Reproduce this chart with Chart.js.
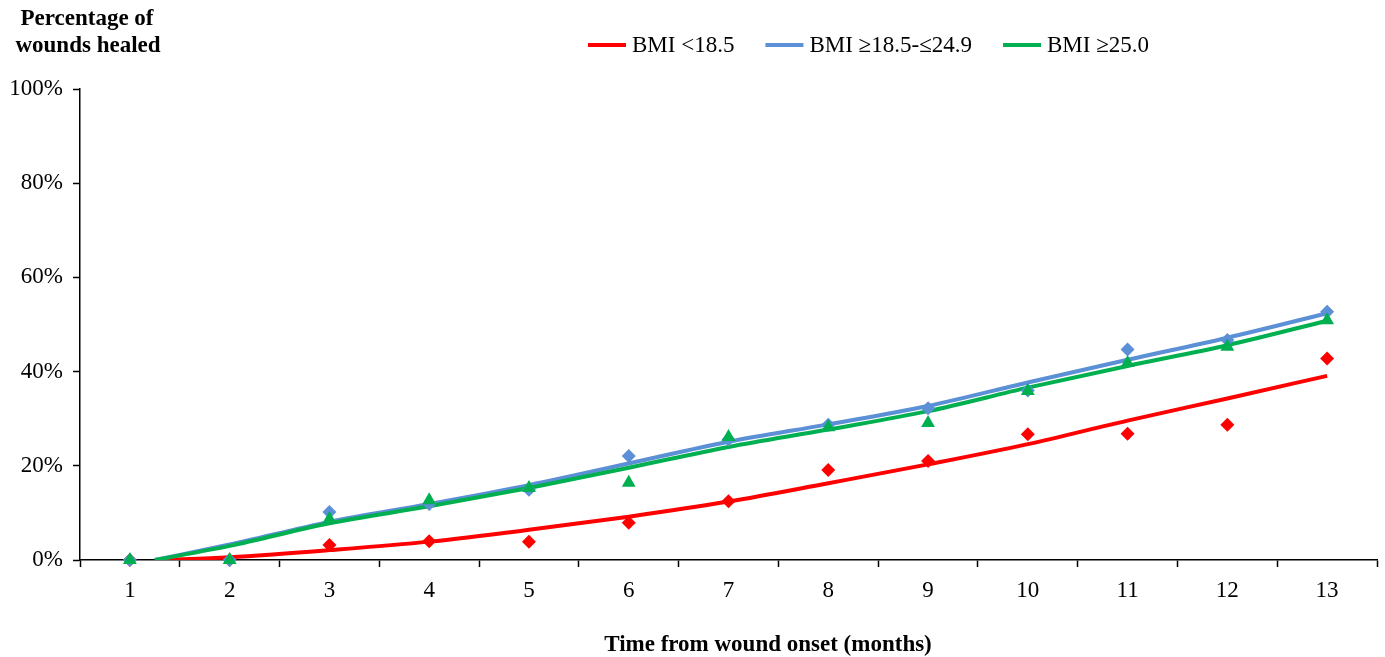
<!DOCTYPE html>
<html>
<head>
<title>Wounds healed by BMI</title>
<script src="https://cdn.jsdelivr.net/npm/chart.js"></script>
<style>
  body { margin: 0; background: #fff; }
  #wrap { width: 1385px; height: 657px; }
</style>
</head>
<body>
<div id="wrap"><canvas id="healChart"></canvas></div>
<script>
// months since wound onset
const months = [1, 2, 3, 4, 5, 6, 7, 8, 9, 10, 11, 12, 13];

// observed % healed (markers)
const bmiLow    = [0, 0, 3.2, 4.0, 3.9, 7.9, 12.5, 19.1, 21.0, 26.7, 26.8, 28.7, 42.8];
const bmiNormal = [0, 0, 10.2, 11.9, 14.9, 22.1, 25.6, 28.7, 32.2, 36.0, 44.7, 46.7, 52.7];
const bmiHigh   = [0, 0, 8.7, 12.7, 15.3, 16.4, 26.1, 28.2, 29.1, 35.9, 41.8, 45.3, 50.9];

// fitted trend lines
const trendLowX   = [1.3, 2, 3, 4, 5, 6, 7, 8, 9, 10, 11, 12, 13];
const trendLow    = [0, 0.6, 2.1, 3.9, 6.4, 9.2, 12.4, 16.3, 20.3, 24.6, 29.6, 34.3, 39.1];
const trendX      = [1.25, 2, 3, 4, 5, 6, 7, 8, 9, 10, 11, 12, 13];
const trendNormal = [0, 3.3, 8.1, 11.9, 15.9, 20.5, 25.1, 28.8, 32.7, 37.7, 42.5, 47.2, 52.4];
const trendHigh   = [0, 3.0, 7.8, 11.4, 15.3, 19.6, 24.0, 27.7, 31.6, 36.6, 41.2, 45.6, 50.8];

const yTicks = [0, 20, 40, 60, 80, 100];

const RED = '#ff0000', BLUE = '#5b8fd6', GREEN = '#00b050';
const serif = '"Liberation Serif", "Times New Roman", serif';

Chart.defaults.font.family = serif;
Chart.defaults.font.size = 23;
Chart.defaults.color = '#000';

const pts = (xs, ys) => xs.map((x, i) => ({ x: x, y: ys[i] }));

function trend(label, xs, ys, color, order) {
    return {
        type: 'line', label: label, data: pts(xs, ys), xAxisID: 'xv', order: order,
        borderColor: color, backgroundColor: color, borderWidth: 4,
        pointRadius: 0, cubicInterpolationMode: 'monotone', isTrend: true
    };
}
function marks(ys, color, style, r, order) {
    return {
        type: 'scatter', data: pts(months, ys), xAxisID: 'xv', order: order,
        backgroundColor: color, borderColor: color, borderWidth: 0,
        pointStyle: style, pointRadius: r, showLine: false, clip: false
    };
}

const labelsPlugin = {
    id: 'labelsPlugin',
    afterDraw(chart) {
        const ctx = chart.ctx;
        ctx.save();
        ctx.fillStyle = '#000';
        ctx.textBaseline = 'middle';

        // axis titles
        ctx.font = 'bold 23px ' + serif;
        ctx.textAlign = 'center';
        ctx.fillText('Percentage of', 87, 19);
        ctx.fillText('wounds healed', 88, 46);
        ctx.fillText('Time from wound onset (months)', 768, 645);

        // legend (trend lines only)
        ctx.font = '23px ' + serif;
        ctx.textAlign = 'left';
        let x = 588;
        const y = 45;
        chart.data.datasets.filter(d => d.isTrend).forEach(d => {
            ctx.strokeStyle = d.borderColor;
            ctx.lineWidth = 4;
            ctx.beginPath();
            ctx.moveTo(x, y);
            ctx.lineTo(x + 38, y);
            ctx.stroke();
            x += 44;
            ctx.fillText(d.label, x, y + 1);
            x += ctx.measureText(d.label).width + 31;
        });
        ctx.restore();
    }
};

new Chart(document.getElementById('healChart'), {
    data: {
        labels: months.map(String),
        datasets: [
            trend('BMI <18.5', trendLowX, trendLow, RED, 6),
            trend('BMI \u226518.5-\u226424.9', trendX, trendNormal, BLUE, 5),
            trend('BMI \u226525.0', trendX, trendHigh, GREEN, 4),
            marks(bmiLow, RED, 'rectRot', 7, 2),
            marks(bmiNormal, BLUE, 'rectRot', 7, 1),
            marks(bmiHigh, GREEN, 'triangle', 8, 0)
        ]
    },
    options: {
        responsive: true,
        maintainAspectRatio: false,
        animation: false,
        layout: { padding: { top: 89, right: 6, left: 0, bottom: 0 } },
        plugins: { legend: { display: false }, tooltip: { enabled: false } },
        scales: {
            x: {
                type: 'category',
                offset: true,
                grid: { offset: true, drawOnChartArea: false, tickLength: 7, color: '#000', tickWidth: 1.5 },
                border: { color: '#000', width: 1.5 },
                ticks: { padding: 10 },
                afterFit(s) { s.height = 97; }
            },
            xv: {
                type: 'linear', display: false, min: 0.5, max: 13.5
            },
            y: {
                min: 0, max: 100,
                afterBuildTicks(s) { s.ticks = yTicks.map(v => ({ value: v })); },
                grid: { drawOnChartArea: false, tickLength: 7, color: '#000', tickWidth: 1.5 },
                border: { color: '#000', width: 1.5 },
                ticks: { padding: 10, callback: v => v + '%' },
                afterFit(s) { s.width = 80; }
            }
        }
    },
    plugins: [labelsPlugin]
});
</script>
</body>
</html>
